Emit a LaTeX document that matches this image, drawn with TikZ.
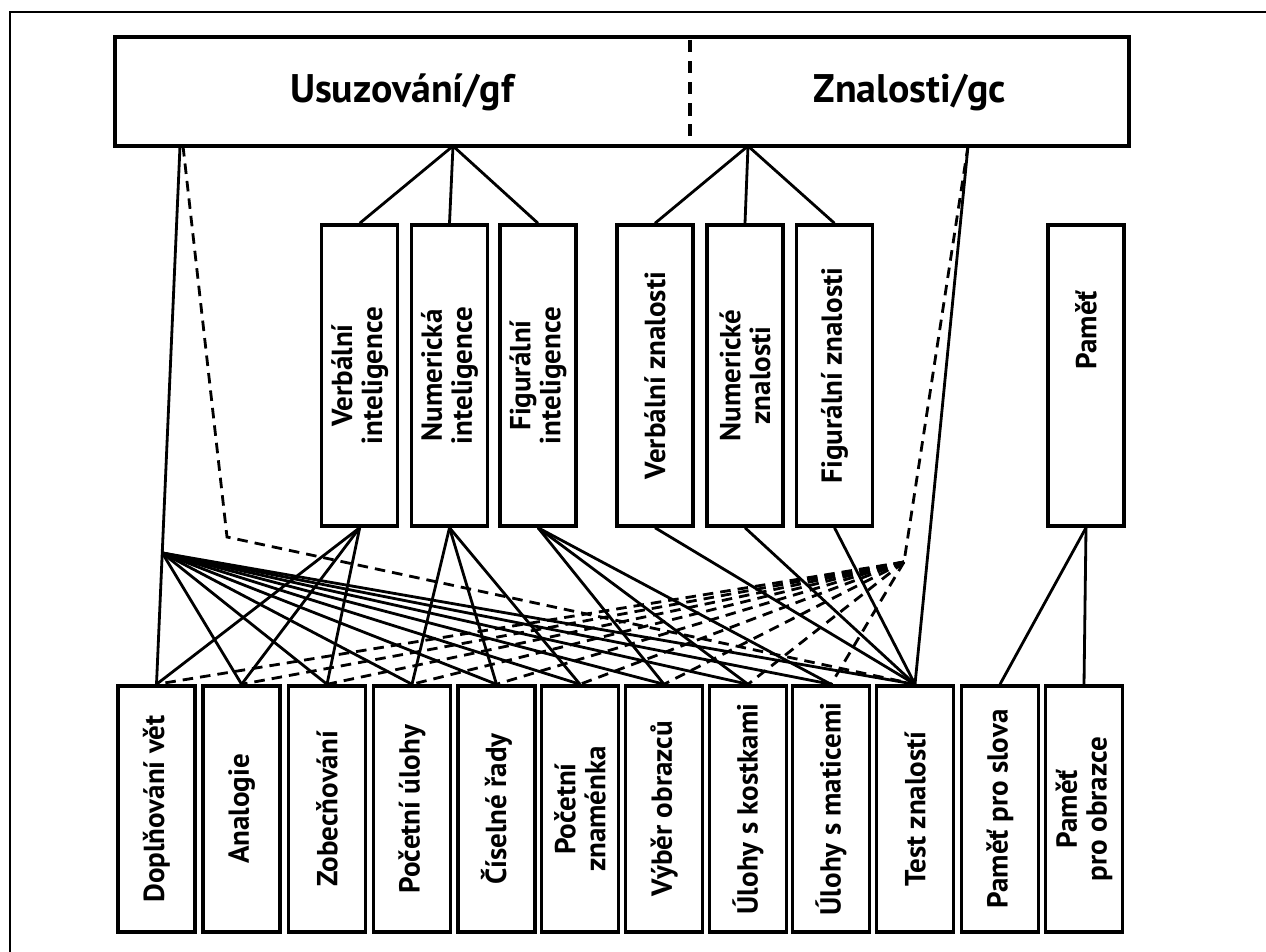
\documentclass[tikz,border=0pt]{standalone}
\usepackage{fontspec}
\setmainfont{PT Sans}
\usetikzlibrary{calc}

\begin{document}
\begin{tikzpicture}[x=0.02cm, y=-0.02cm,
    box/.style={draw, line width=2pt, inner sep=0pt},
    midbox/.style={box, minimum width=1.52cm, minimum height=6.02cm},
    lowbox/.style={box, minimum width=1.54cm, minimum height=4.92cm},
    lbl/.style={rotate=90, align=center, inner sep=0pt, font=\fontsize{16.5}{17}\selectfont\bfseries},
    head/.style={anchor=base, inner sep=0pt, font=\fontsize{22.7}{26}\selectfont\bfseries},
    link/.style={line width=1.6pt},
    dlink/.style={link, dash pattern=on 6pt off 4pt}]
    \useasboundingbox (0,0) rectangle (1266,952);
    \draw[line width=1.4pt] (10,960) -- (10,12) -- (1270,12);

    % factors on top
    \node[box, minimum width=20.28cm, minimum height=2.18cm] (top) at (622,91.5) {};
    \draw[line width=1.8pt, dash pattern=on 7pt off 5pt] (690,40) -- (690,136);
    \node[head] (gftxt) at (402,103) {Usuzování/gf};
    \node[head] (gctxt) at (910,103) {Znalosti/gc};
    \coordinate (gf) at (453,146);
    \coordinate (gc) at (748,146);
    \coordinate (gfl) at (180,146);
    \coordinate (gfd) at (183,146);
    \coordinate (gcr) at (968,146);

    % middle row
    \foreach \name/\x in {vi/359.7, ni/449.5, fi/538, vz/655, nz/745, fz/834.5, pa/1086}
        \node[midbox] (\name) at (\x,375.5) {};
    \node[lbl] (vitxt) at (vi) {Verbální\\inteligence};
    \node[lbl] (nitxt) at (ni) {Numerická\\inteligence};
    \node[lbl] (fitxt) at (fi) {Figurální\\inteligence};
    \node[lbl] (vztxt) at (vz) {Verbální znalosti};
    \node[lbl] (nztxt) at (nz) {Numerické\\znalosti};
    \node[lbl] (fztxt) at (fz) {Figurální znalosti};
    \node[lbl] (patxt) at (1086,330) {Paměť};

    % tests
    \foreach \name/\x/\txt in {dv/156.5/{Doplňování vět}, an/241.6/{Analogie},
        zo/327/{Zobecňování}, pu/412/{Početní úlohy}, cr/496.5/{Číselné řady},
        pz/580/{Početní\\znaménka}, vo/664/{Výběr obrazců}, uk/748/{Úlohy s kostkami},
        um/831/{Úlohy s maticemi}, tz/915/{Test znalostí}, ps/1000/{Paměť pro slova},
        po/1084/{Paměť\\pro obrazce}}
    {
        \node[lowbox] (\name) at (\x,809) {};
        \node[lbl] (\name txt) at (\name) {\txt};
    }

    % links
    \foreach \a in {vi,ni,fi} \draw[link] (gf) -- (\a.north);
    \foreach \a in {vz,nz,fz} \draw[link] (gc) -- (\a.north);
    \foreach \b in {dv,an,zo} \draw[link] (vi.south) -- (\b.north);
    \foreach \b in {pu,cr,pz} \draw[link] (ni.south) -- (\b.north);
    \foreach \b in {vo,uk,um} \draw[link] (fi.south) -- (\b.north);
    \foreach \a in {vz,nz,fz} \draw[link] (\a.south) -- (tz.north);
    \draw[link] (pa.south) -- (ps.north);
    \draw[link] (pa.south) -- (po.north);

    % gf
    \draw[link] (gfl) -- (dv.north);
    \coordinate (gfhub) at ($(gfl)!0.756!(dv.north)$);
    \foreach \b in {an,zo,pu,cr,pz,vo,uk,um,tz} \draw[link] (gfhub) -- (\b.north);
    \draw[dlink] (gfd) -- (227,537) -- (tz.north);

    % gc
    \draw[link] (gcr) -- (tz.north);
    \coordinate (gchub) at (904,562);
    \draw[dlink] (gcr) -- (gchub);
    \foreach \b in {dv,an,zo,pu,cr,pz,vo,uk,um} \draw[dlink] (gchub) -- (\b.north);
\end{tikzpicture}
\end{document}
